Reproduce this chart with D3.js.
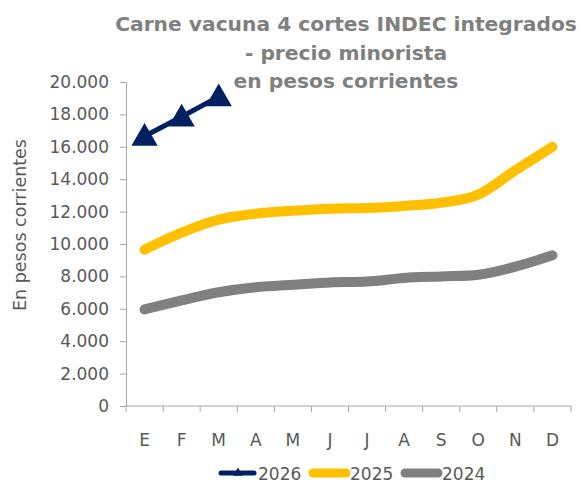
<!DOCTYPE html>
<html>
<head>
<meta charset="utf-8">
<script src="https://cdn.jsdelivr.net/npm/d3@7"></script>
<style>
  body { margin: 0; background: #fff; }
  text { font-family: "DejaVu Sans", sans-serif; }
</style>
</head>
<body>
<div id="chart"></div>
<script>
// months (axis categories)
const months = ["E", "F", "M", "A", "M", "J", "J", "A", "S", "O", "N", "D"];
const yTicks = [0, 2000, 4000, 6000, 8000, 10000, 12000, 14000, 16000, 18000, 20000];

// series
const serie2026 = [16650, 17850, 19100];
const serie2025 = [9650, 10700, 11500, 11870, 12050, 12180, 12220, 12350, 12550, 13050, 14550, 16000];
const serie2024 = [5960, 6520, 7020, 7330, 7480, 7630, 7680, 7900, 8000, 8100, 8600, 9300];

const titleLines = ["Carne vacuna 4 cortes INDEC integrados", "- precio minorista", "en pesos corrientes"];

const width = 584, height = 488;
const margin = { top: 82, right: 13, bottom: 82, left: 126 };

const svg = d3.select("#chart").append("svg")
    .attr("width", width)
    .attr("height", height);

const x = d3.scaleBand()
    .domain(d3.range(months.length))
    .range([margin.left, width - margin.right]);

const y = d3.scaleLinear()
    .domain([0, 20000])
    .range([height - margin.bottom, margin.top]);

const fmt = d => d3.format(",")(d).replace(/,/g, ".");

// y axis
const yAxis = svg.append("g")
    .attr("transform", `translate(${margin.left},0)`)
    .call(d3.axisLeft(y).tickValues(yTicks).tickFormat(fmt).tickSize(6).tickSizeOuter(0));
yAxis.selectAll("text").attr("fill", "#595959").style("font-size", "17px").attr("x", -17);

// x axis, ticks between categories
const xAxis = svg.append("g")
    .attr("transform", `translate(0,${y(0)})`);
xAxis.append("line")
    .attr("x1", margin.left).attr("x2", width - margin.right)
    .attr("stroke", "#a6a6a6");
xAxis.selectAll(".tk")
    .data(d3.range(months.length + 1))
    .enter().append("line")
    .attr("x1", i => margin.left + i * x.bandwidth())
    .attr("x2", i => margin.left + i * x.bandwidth())
    .attr("y1", 0).attr("y2", 6)
    .attr("stroke", "#a6a6a6");
xAxis.selectAll(".lbl")
    .data(months)
    .enter().append("text")
    .attr("x", (d, i) => x(i) + x.bandwidth() / 2)
    .attr("y", 40)
    .attr("text-anchor", "middle")
    .attr("fill", "#595959")
    .style("font-size", "17px")
    .text(d => d);

svg.selectAll(".domain, .tick line").attr("stroke", "#a6a6a6");

// y axis title
svg.append("text")
    .attr("transform", "translate(26,225) rotate(-90)")
    .attr("text-anchor", "middle")
    .attr("fill", "#595959")
    .style("font-size", "17.5px")
    .text("En pesos corrientes");

// title, sized so the first line spans like the original
const title = svg.append("g").selectAll("text")
    .data(titleLines)
    .enter().append("text")
    .attr("x", 346)
    .attr("y", (d, i) => 31 + i * 28.5)
    .attr("text-anchor", "middle")
    .attr("fill", "#7f7f7f")
    .style("font-size", "20px")
    .style("font-weight", "bold")
    .text(d => d);
const w0 = title.node().getComputedTextLength();
title.style("font-size", (20 * 462 / w0) + "px");

const line = d3.line()
    .x((d, i) => x(i) + x.bandwidth() / 2)
    .y(d => y(d))
    .curve(d3.curveCardinal.tension(0));

svg.append("path")
    .datum(serie2024)
    .attr("d", line)
    .attr("fill", "none")
    .attr("stroke", "#808080")
    .attr("stroke-width", 10)
    .attr("stroke-linecap", "round");

svg.append("path")
    .datum(serie2025)
    .attr("d", line)
    .attr("fill", "none")
    .attr("stroke", "#ffc000")
    .attr("stroke-width", 10)
    .attr("stroke-linecap", "round");

svg.append("path")
    .datum(serie2026)
    .attr("d", d3.line().x((d, i) => x(i) + x.bandwidth() / 2).y(d => y(d)))
    .attr("fill", "none")
    .attr("stroke", "#002060")
    .attr("stroke-width", 5);

const tri = d3.symbol().type(d3.symbolTriangle).size(300);
svg.selectAll(".mk")
    .data(serie2026)
    .enter().append("path")
    .attr("d", tri)
    .attr("transform", (d, i) => `translate(${x(i) + x.bandwidth() / 2},${y(d) + 2})`)
    .attr("fill", "#002060");

// legend
const legend = [
    { name: "2026", color: "#002060", w: 5, marker: true, x: 221 },
    { name: "2025", color: "#ffc000", w: 9, marker: false, x: 313 },
    { name: "2024", color: "#808080", w: 9, marker: false, x: 405 }
];
const lg = svg.append("g").attr("transform", "translate(0,473)");
legend.forEach(l => {
    lg.append("line")
        .attr("x1", l.x).attr("x2", l.x + 33)
        .attr("stroke", l.color)
        .attr("stroke-width", l.w)
        .attr("stroke-linecap", "round");
    if (l.marker) {
        lg.append("path")
            .attr("d", d3.symbol().type(d3.symbolTriangle).size(40))
            .attr("transform", `translate(${l.x + 17},0)`)
            .attr("fill", l.color);
    }
    lg.append("text")
        .attr("x", l.x + 37)
        .attr("y", 7)
        .attr("fill", "#595959")
        .style("font-size", "17px")
        .text(l.name);
});
</script>
</body>
</html>
